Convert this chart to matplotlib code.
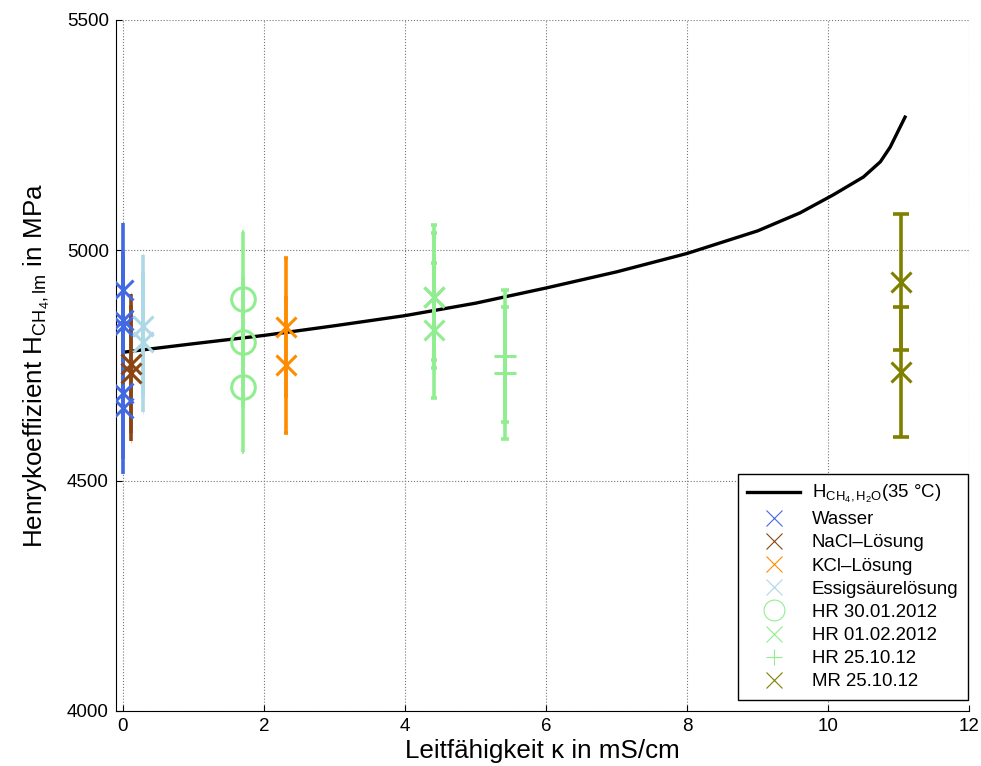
import numpy as np
import matplotlib
matplotlib.use("Agg")
import matplotlib.pyplot as plt
from matplotlib.lines import Line2D

plt.rcParams['font.family'] = ['Liberation Sans', 'DejaVu Sans']
plt.rcParams['mathtext.fontset'] = 'custom'
plt.rcParams['mathtext.rm'] = 'Liberation Sans'
plt.rcParams['mathtext.it'] = 'Liberation Sans:italic'
plt.rcParams['mathtext.bf'] = 'Liberation Sans:bold'

# Henry coefficient curve H_CH4,H2O at 35 °C
curve_x = [0.03, 1.0, 2.0, 3.0, 4.0, 5.0, 6.0, 7.0, 8.0, 9.0, 9.6, 10.07, 10.5, 10.74, 10.88, 10.98, 11.09]
curve_y = [4779, 4797, 4815, 4836, 4858, 4885, 4918, 4953, 4993, 5042, 5081, 5120, 5159, 5192, 5224, 5255, 5289]

# measurements: conductivity, Henry coefficient, error
wasser_x = [0.0, 0.0, 0.0, 0.0, 0.0]
wasser_y = [4913, 4848, 4836, 4691, 4657]
wasser_e = [146, 148, 150, 145, 142]

nacl_x = [0.11, 0.11]
nacl_y = [4754, 4733]
nacl_e = [150, 148]

kcl_x = [2.32, 2.32]
kcl_y = [4833, 4750]
kcl_e = [150, 146]

essig_x = [0.28, 0.28]
essig_y = [4835, 4800]
essig_e = [154, 152]

hr3001_x = [1.71, 1.71, 1.71]
hr3001_y = [4895, 4800, 4702]
hr3001_e = [144, 142, 141]

hr0102_x = [4.41, 4.41, 4.41]
hr0102_y = [4899, 4899, 4826]
hr0102_e = [155, 138, 146]

hr2510_x = [5.42, 5.42]
hr2510_y = [4770, 4733]
hr2510_e = [143, 143]

mr2510_x = [11.03, 11.03]
mr2510_y = [4931, 4735]
mr2510_e = [147, 141]

labels = ['Wasser', 'NaCl–Lösung', 'KCl–Lösung', 'Essigsäurelösung',
          'HR 30.01.2012', 'HR 01.02.2012', 'HR 25.10.12', 'MR 25.10.12']

series = [
    (wasser_x, wasser_y, wasser_e, '#4169E1', 'x', 0.0),
    (nacl_x, nacl_y, nacl_e, '#8B4513', 'x', 0.1),
    (kcl_x, kcl_y, kcl_e, '#FF8C00', 'x', 1.2),
    (essig_x, essig_y, essig_e, '#ADD8E6', 'x', 0.2),
    (hr3001_x, hr3001_y, hr3001_e, '#90EE90', 'o', 0.9),
    (hr0102_x, hr0102_y, hr0102_e, '#90EE90', 'x', 2.2),
    (hr2510_x, hr2510_y, hr2510_e, '#90EE90', '+', 2.7),
    (mr2510_x, mr2510_y, mr2510_e, '#808000', 'x', 5.6),
]
msizes = {'x': 14, 'o': 17, '+': 16}

fig = plt.figure(figsize=(9.81, 7.66), dpi=100)
ax = fig.add_axes([0.118, 0.072, 0.870, 0.902])

ax.plot(curve_x, curve_y, color='black', lw=2.4, zorder=2)

for (x, y, e, c, m, cap) in series:
    ax.errorbar(x, y, yerr=e, fmt='none', ecolor=c, elinewidth=2.6,
                capsize=cap, capthick=2.6, zorder=3)
    ax.plot(x, y, linestyle='none', marker=m, color=c, mfc='none',
            ms=msizes[m], mew=2.2, zorder=4)

ax.set_xlim(-0.1, 12)
ax.set_ylim(4000, 5500)
ax.set_xticks(np.arange(0, 13, 2))
ax.set_yticks([4000, 4500, 5000, 5500])
ax.spines['top'].set_visible(False)
ax.spines['right'].set_visible(False)
ax.tick_params(direction='in', length=4, labelsize=13.5, top=False, right=False, pad=5)
ax.grid(True, linestyle=':', color='#777777', linewidth=0.8)

ax.set_xlabel('Leitfähigkeit κ in mS/cm', fontsize=18.7, labelpad=3)
ax.set_ylabel(r'Henrykoeffizient H$_{\mathregular{CH_4,lm}}$ in MPa', fontsize=18.7, labelpad=11)

handles = [Line2D([], [], color='black', lw=2.4)]
for (x, y, e, c, m, cap) in series:
    handles.append(Line2D([], [], linestyle='none', marker=m, color=c, mfc='none',
                          ms=11 if m != 'o' else 15, mew=0.8))
leg = ax.legend(handles, [r'$\mathregular{H_{CH_4,H_2O}}$(35 °C)'] + labels,
                loc='lower right', bbox_to_anchor=(0.998, 0.016), borderaxespad=0,
                fontsize=13.4, fancybox=False, framealpha=1, edgecolor='black',
                handlelength=2.85, labelspacing=0.33, borderpad=0.5, handletextpad=0.6)
leg.get_frame().set_linewidth(1.0)

fig.savefig('out.png', dpi=100)
